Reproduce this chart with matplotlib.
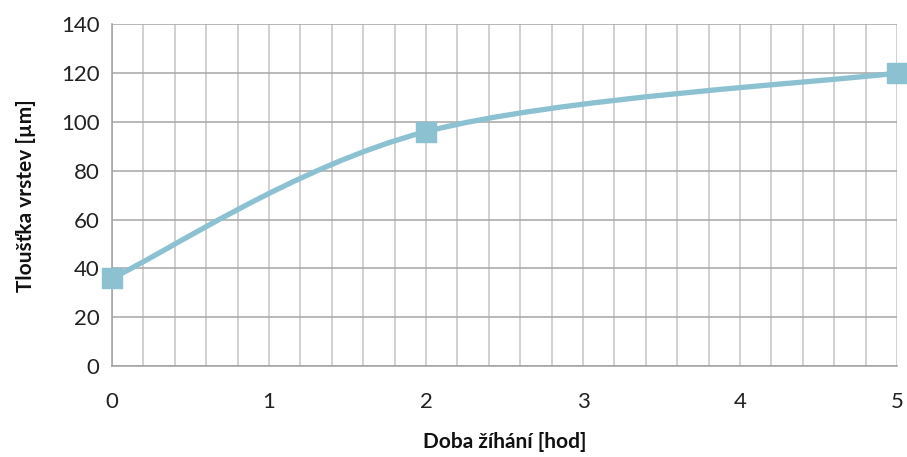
import matplotlib
matplotlib.use("Agg")
import matplotlib.pyplot as plt
from matplotlib.path import Path
from matplotlib.patches import PathPatch
import numpy as np

plt.rcParams['font.family'] = ['Lato', 'DejaVu Sans']

hours = [0, 2, 5]
thickness = [36, 96, 120]
x_ticks = [0, 1, 2, 3, 4, 5]
y_ticks = [0, 20, 40, 60, 80, 100, 120, 140]

line_color = '#8cc1d1'

fig = plt.figure(figsize=(9.07, 4.57), dpi=100)
ax = fig.add_axes([0.1235, 0.199, 0.8655, 0.748])

ax.set_xlim(0, 5)
ax.set_ylim(0, 140)
ax.set_xticks(x_ticks)
ax.set_yticks(y_ticks)
ax.set_xticks(np.arange(0, 5.01, 0.2), minor=True)
ax.grid(True, which='major', axis='y', color='#a6a6a6', lw=1.1)
ax.grid(True, which='both', axis='x', color='#c4c4c4', lw=1.1)
ax.set_axisbelow(True)
ax.tick_params(which='both', length=0, labelsize=16, colors='#222222')
ax.tick_params(axis='x', pad=19)
ax.tick_params(axis='y', pad=9)
for side in ['top', 'right']:
    ax.spines[side].set_visible(False)
for side in ['left', 'bottom']:
    ax.spines[side].set_color('#a0a0a0')
    ax.spines[side].set_linewidth(1.1)

# smoothed line through the points (cubic Bezier segments, Catmull-Rom style)
pts = np.column_stack([hours, thickness]).astype(float)
n = len(pts)
verts = [tuple(pts[0])]
codes = [Path.MOVETO]
for i in range(n - 1):
    p_prev = pts[i - 1] if i > 0 else pts[i]
    p_next2 = pts[i + 2] if i + 2 < n else pts[i + 1]
    c1 = pts[i] + (pts[i + 1] - p_prev) / 6.0
    c2 = pts[i + 1] - (p_next2 - pts[i]) / 6.0
    verts += [tuple(c1), tuple(c2), tuple(pts[i + 1])]
    codes += [Path.CURVE4] * 3
patch = PathPatch(Path(verts, codes), facecolor='none', edgecolor=line_color,
                  lw=3.8, capstyle='round', joinstyle='round', clip_on=False, zorder=3)
ax.add_patch(patch)

ax.plot(hours, thickness, linestyle='none', marker='s', markersize=14,
        color=line_color, clip_on=False, zorder=4)

ax.set_xlabel('Doba žíhání [hod]', fontsize=15, fontweight='bold', labelpad=14, color='#111111')
ax.set_ylabel('Tloušťka vrstev [µm]', fontsize=15, fontweight='bold', labelpad=18, color='#111111')

fig.savefig('out.png', dpi=100)
